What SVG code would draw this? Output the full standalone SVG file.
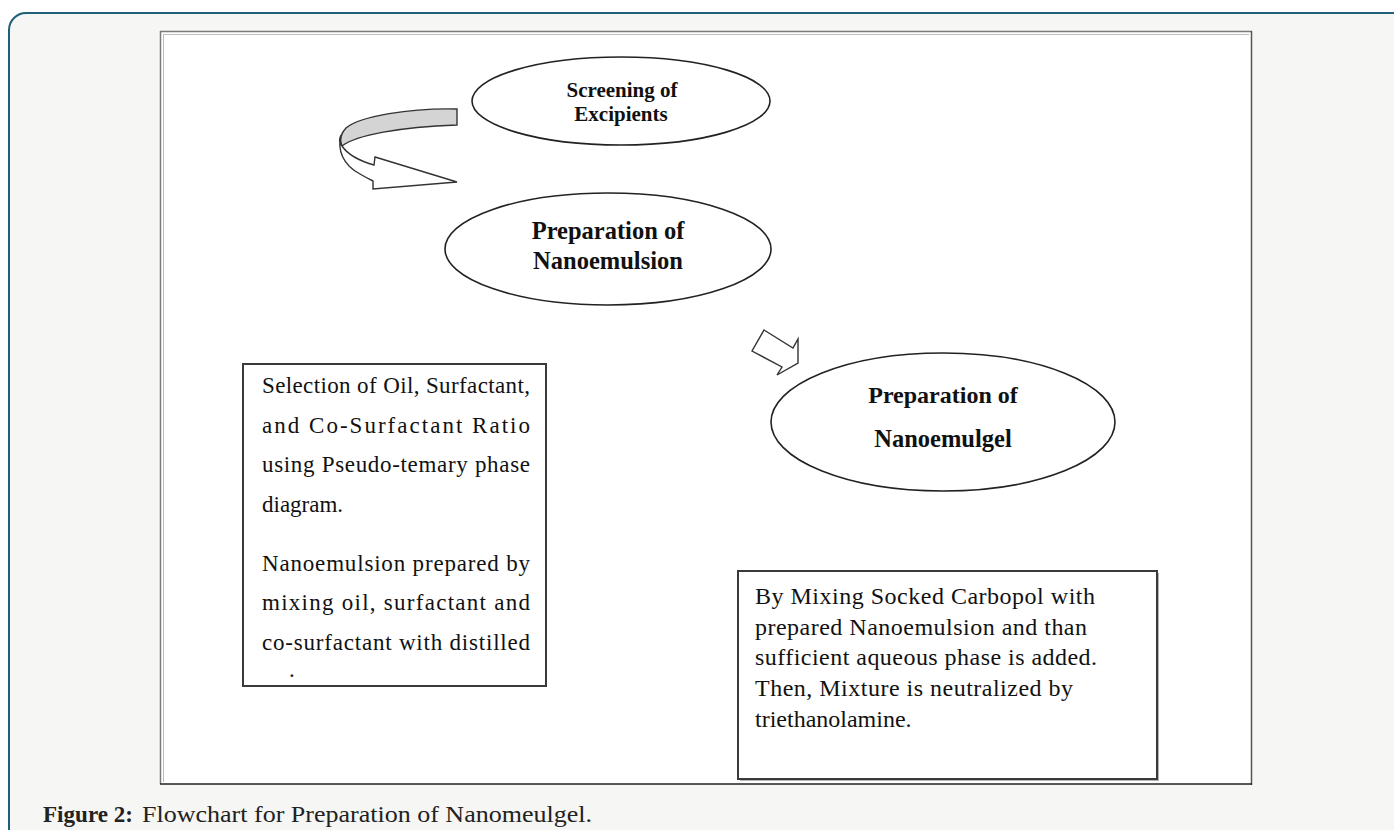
<svg xmlns="http://www.w3.org/2000/svg" width="1394" height="830" viewBox="0 0 1394 830">
<style>
.ell{fill:#fff;stroke:#222;stroke-width:1.6}
.bt{font-family:"Liberation Serif","Times New Roman",serif;font-weight:bold;fill:#111;text-anchor:middle}
.rt{font-family:"Liberation Serif","Times New Roman",serif;fill:#111}
.box{fill:#fff;stroke:#3a3a3a;stroke-width:2}
.arr{fill:#fff;stroke:#333;stroke-width:1.4;stroke-linejoin:miter}
.cap{font-family:"Liberation Serif","Times New Roman",serif;fill:#222;font-size:23px}
</style>
<rect x="0" y="0" width="1394" height="830" fill="#ffffff"/>
<rect id="card" x="9" y="13" width="1400" height="840" rx="17" ry="17" fill="#f6f6f4" stroke="#1f5f77" stroke-width="2"/>
<g id="frame">
<rect x="160" y="31" width="1092" height="753" fill="#ffffff"/>
<line x1="160.5" y1="31" x2="160.5" y2="784" stroke="#7a7a7a" stroke-width="1.5"/>
<line x1="160" y1="31.5" x2="1252" y2="31.5" stroke="#7a7a7a" stroke-width="1.5"/>
<line x1="163.5" y1="34" x2="163.5" y2="782" stroke="#bdbdbd" stroke-width="1"/>
<line x1="163" y1="34.5" x2="1249" y2="34.5" stroke="#bdbdbd" stroke-width="1"/>
<line x1="1251.5" y1="31" x2="1251.5" y2="785" stroke="#555" stroke-width="1.5"/>
<line x1="160" y1="784" x2="1252" y2="784" stroke="#222" stroke-width="1.5"/>
</g>
<g id="connectors">
<path d="M457,109 C410,108 360,116 346,128 C341,133 339,140 342,146 C356,135 400,127 457,125 Z" fill="#d4d4d4" stroke="#333" stroke-width="1.4"/>
<path class="arr" d="M341,135 C337,150 343,165 360,174 C365,177 369,179 373,181 L373,189 L457,182 L375,157 L374,165 C360,161 348,155 342,146 C339,143 339,139 341,135 Z"/>
<polygon class="arr" points="764,330 793,348 798,339 798,363 777,375 782,367 752,351"/>
</g>
<g id="node-screening">
<ellipse class="ell" cx="621" cy="101" rx="149" ry="44"/>
<text class="bt" x="622" y="97" font-size="21">Screening of</text>
<text class="bt" x="621" y="121" font-size="21">Excipients</text>
</g>
<g id="node-nanoemulsion">
<ellipse class="ell" cx="608" cy="249" rx="163" ry="56"/>
<text class="bt" x="608" y="239" font-size="24.5">Preparation of</text>
<text class="bt" x="608" y="269" font-size="24.5">Nanoemulsion</text>
</g>
<g id="node-nanoemulgel">
<ellipse class="ell" cx="943" cy="422" rx="172" ry="69"/>
<text class="bt" x="943" y="403" font-size="24">Preparation of</text>
<text class="bt" x="943" y="447" font-size="24.5">Nanoemulgel</text>
</g>
<g id="node-left-box">
<rect class="box" x="243" y="364" width="303" height="322"/>
<text class="rt" x="262" y="393" font-size="23" textLength="268" lengthAdjust="spacing">Selection of Oil, Surfactant,</text>
<text class="rt" x="262" y="433" font-size="23" textLength="268" lengthAdjust="spacing">and Co-Surfactant Ratio</text>
<text class="rt" x="262" y="472" font-size="23" textLength="268" lengthAdjust="spacing">using Pseudo-temary phase</text>
<text class="rt" x="262" y="512" font-size="23">diagram.</text>
<text class="rt" x="262" y="571" font-size="23" textLength="268" lengthAdjust="spacing">Nanoemulsion prepared by</text>
<text class="rt" x="262" y="610" font-size="23" textLength="268" lengthAdjust="spacing">mixing oil, surfactant and</text>
<text class="rt" x="262" y="650" font-size="23" textLength="268" lengthAdjust="spacing">co-surfactant with distilled</text>
<text class="rt" x="289" y="677" font-size="23">.</text>
</g>
<g id="node-right-box">
<rect x="740" y="573" width="419" height="208" fill="#6a6a6a" opacity="0.5"/>
<rect class="box" x="738" y="571" width="419" height="208"/>
<text class="rt" x="755" y="604" font-size="24" textLength="340" lengthAdjust="spacing">By Mixing Socked Carbopol with</text>
<text class="rt" x="755" y="635" font-size="24" textLength="332" lengthAdjust="spacing">prepared Nanoemulsion and than</text>
<text class="rt" x="755" y="665" font-size="24" textLength="342" lengthAdjust="spacing">sufficient aqueous phase is added.</text>
<text class="rt" x="755" y="696" font-size="24" textLength="318" lengthAdjust="spacing">Then, Mixture is neutralized by</text>
<text class="rt" x="755" y="727" font-size="24">triethanolamine.</text>
</g>
<g id="caption">
<text class="cap" x="43" y="822" font-weight="bold" textLength="90" lengthAdjust="spacingAndGlyphs">Figure 2:</text>
<text class="cap" x="142" y="822" textLength="450" lengthAdjust="spacingAndGlyphs">Flowchart for Preparation of Nanomeulgel.</text>
</g>
</svg>
